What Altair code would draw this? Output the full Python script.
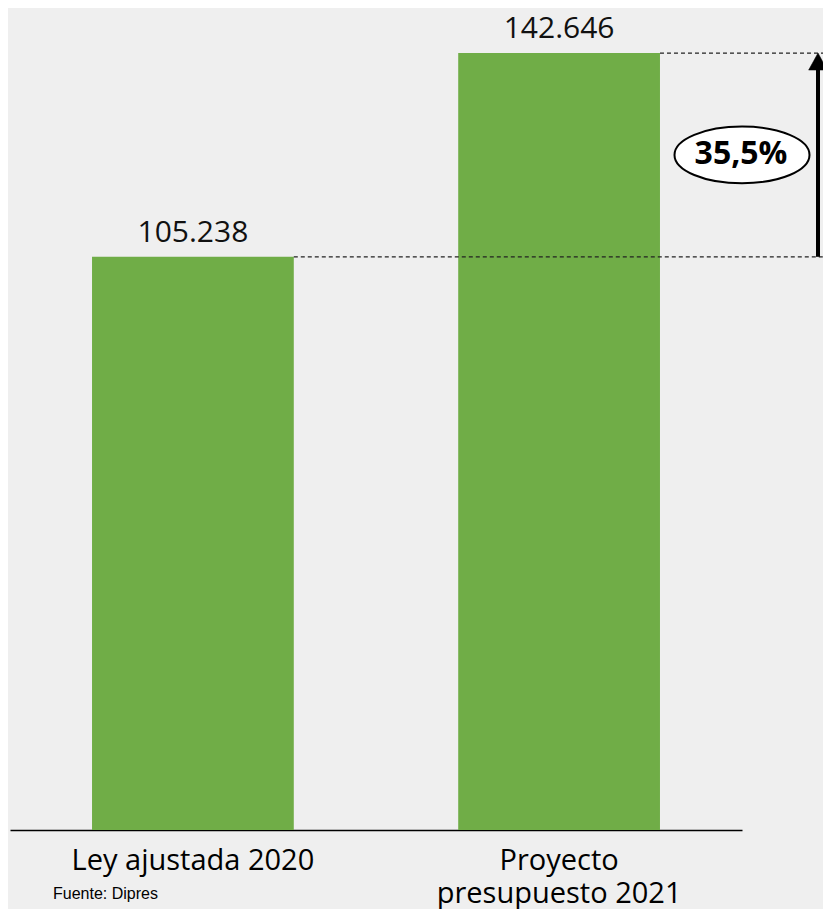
import altair as alt
import pandas as pd

categories = ["Ley ajustada 2020", "Proyecto presupuesto 2021"]
values = [105238, 142646]
value_labels = ["105.238", "142.646"]
pct_label = "35,5%"
source_note = "Fuente: Dipres"

bars_df = pd.DataFrame({"cat": categories, "val": values, "lab": value_labels})
ann_df = pd.DataFrame({
    "lo": [values[0]],
    "hi": [values[1]],
    "mid": [(values[0] + values[1]) / 2],
    "pct": [pct_label],
})
note_df = pd.DataFrame({"t": [source_note]})

GREEN = "#70AD47"
xscale = alt.Scale(domain=categories, paddingInner=0.449, paddingOuter=0.224)
yscale = alt.Scale(domain=[0, 150000], nice=False, zero=True)

x_enc = alt.X(
    "cat:N", sort=categories, scale=xscale, title=None,
    axis=alt.Axis(
        labelAngle=0, ticks=False, grid=False, domain=True,
        domainColor="#000000", domainWidth=1.6,
        labelFont="Open Sans", labelFontSize=29, labelColor="#000000",
        labelBaseline="alphabetic", labelPadding=39, labelLineHeight=33,
        labelLimit=0,
        labelExpr="datum.label == 'Proyecto presupuesto 2021' ? ['Proyecto', 'presupuesto 2021'] : datum.label",
    ),
)
y_enc = alt.Y("val:Q", scale=yscale, axis=None)

bars = alt.Chart(bars_df).mark_bar(color=GREEN).encode(x=x_enc, y=y_enc)

labels = alt.Chart(bars_df).mark_text(
    font="Open Sans", fontSize=30, color="#111111", baseline="alphabetic", dy=-15
).encode(x=alt.X("cat:N", sort=categories, scale=xscale), y=alt.Y("val:Q", scale=yscale), text="lab:N")

dashes = alt.Chart(bars_df).mark_rule(
    strokeDash=[4, 3], color="#222222", strokeWidth=1.2
).encode(
    x=alt.X("cat:N", sort=categories, scale=xscale, bandPosition=1),
    x2=alt.value(820),
    y=alt.Y("val:Q", scale=yscale),
)

arrow_line = alt.Chart(ann_df).mark_rule(
    color="#000000", strokeWidth=4, y2Offset=12, strokeCap="butt"
).encode(
    x=alt.value(808),
    y=alt.Y("lo:Q", scale=yscale),
    y2="hi:Q",
)

arrow_head = alt.Chart(ann_df).mark_point(
    shape="M 0 0 L 0.55 1 L -0.55 1 Z", size=1156, filled=True,
    fill="#000000", stroke="#000000", strokeWidth=0.5, opacity=1
).encode(x=alt.value(808), y=alt.Y("hi:Q", scale=yscale))

ellipse = alt.Chart(ann_df).mark_point(
    shape="M -1 0 A 1 0.42 0 1 1 1 0 A 1 0.42 0 1 1 -1 0 Z", size=18225,
    filled=True, fill="#ffffff", stroke="#000000", strokeWidth=2, opacity=1
).encode(x=alt.value(732), y=alt.Y("mid:Q", scale=yscale))

pct = alt.Chart(ann_df).mark_text(
    font="Open Sans", fontSize=32, fontWeight="bold", color="#000000", baseline="middle", align="center", dy=-1
).encode(x=alt.value(731), y=alt.Y("mid:Q", scale=yscale), text="pct:N")

note = alt.Chart(note_df).mark_text(
    font="Liberation Sans", fontSize=16, color="#000000", align="left", baseline="top"
).encode(x=alt.value(43), y=alt.value(873), text="t:N")

chart = alt.layer(
    bars, dashes, labels, arrow_line, arrow_head, ellipse, pct, note
).properties(
    width=732, height=817,
    autosize=alt.AutoSizeParams(type="none"),
    padding={"left": 2, "top": 5, "right": 81, "bottom": 79},
    background="#efefef",
).configure_view(stroke=None)

chart.save("out.html", embed_options={"renderer": "svg", "actions": False})
